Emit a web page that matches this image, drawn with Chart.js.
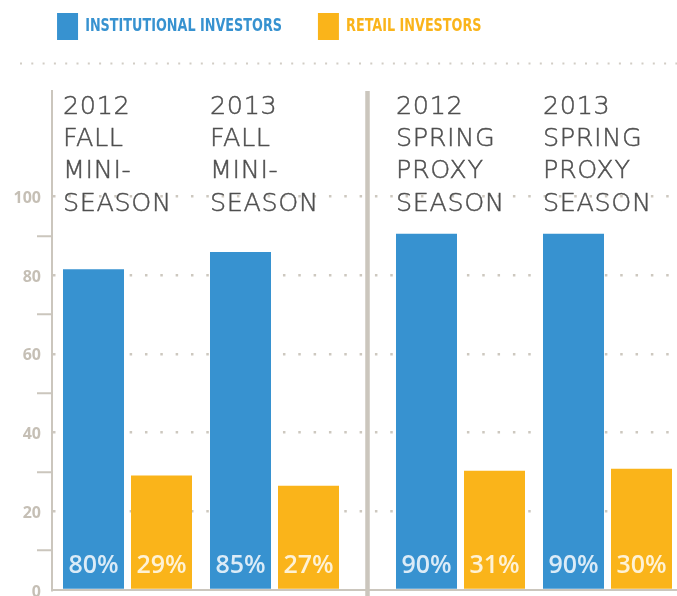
<!DOCTYPE html>
<html><head><meta charset="utf-8">
<script src="https://cdn.jsdelivr.net/npm/chart.js@4.4.1/dist/chart.umd.min.js"></script>
<style>html,body{margin:0;padding:0;background:#fff;}canvas{display:block}</style>
</head><body>
<canvas id="c" width="677" height="596"></canvas>
<script>
// ---- data ----
const seasons = [
  ['2012', 'FALL', 'MINI-', 'SEASON'],
  ['2013', 'FALL', 'MINI-', 'SEASON'],
  ['2012', 'SPRING', 'PROXY', 'SEASON'],
  ['2013', 'SPRING', 'PROXY', 'SEASON']
];
const seriesNames = ['INSTITUTIONAL INVESTORS', 'RETAIL INVESTORS'];
const institutional = [81.5, 85.9, 90.5, 90.5];
const retail = [29.1, 26.5, 30.3, 30.8];
const institutionalLabels = ['80%', '85%', '90%', '90%'];
const retailLabels = ['29%', '27%', '31%', '30%'];
const yTicks = [0, 10, 20, 30, 40, 50, 60, 70, 80, 90, 100];
const yLabelEvery = 20;

const BLUE = '#3792d0', ORANGE = '#fab41a', AXIS = '#cbc6bd';
const LEGEND_SX = 0.79;

class GapCategoryScale extends Chart.CategoryScale {
  getPixelForValue(value) {
    if (typeof value !== 'number') value = this.parse(value);
    const o = this.options;
    const n = this.getLabels().length;
    const w = (this.width + o.overhang - o.inset - o.gap) / n;
    return this.left + o.inset + w * (value + 0.5) + (value >= o.splitAt ? o.gap : 0);
  }
}
GapCategoryScale.id = 'gapCategory';
GapCategoryScale.defaults = Chart.CategoryScale.defaults;
Chart.register(GapCategoryScale);

const decor = {
  id: 'decor',
  afterInit(chart) {
    const lg = chart.legend;
    const fit = lg.fit.bind(lg);
    lg.fit = function () { fit(); this.height = 91; };
    const draw = lg.draw.bind(lg);
    lg.draw = function (a) {
      const c = chart.ctx; c.save();
      c.translate(21.1, -32.5); c.scale(LEGEND_SX, 1);
      draw(a); c.restore();
    };
  },
  beforeDatasetsDraw(chart) {
    const c = chart.ctx, x = chart.scales.x, area = chart.chartArea;
    c.save();
    // top dotted rule
    c.strokeStyle = '#d2cdc5'; c.lineWidth = 2; c.setLineDash([2, 9.3]);
    c.beginPath(); c.moveTo(20, 63.5); c.lineTo(chart.width, 63.5); c.stroke();
    c.setLineDash([]);
    // separator between seasons
    const sx = (x.getPixelForValue(1) + x.getPixelForValue(2)) / 2;
    c.strokeStyle = AXIS; c.lineWidth = 4.5;
    c.beginPath(); c.moveTo(sx, area.top); c.lineTo(sx, chart.height); c.stroke();
    c.restore();
  },
  afterDatasetsDraw(chart) {
    const c = chart.ctx;
    const m0 = chart.getDatasetMeta(0), m1 = chart.getDatasetMeta(1);
    c.save();
    // season titles
    c.fillStyle = '#4f4f4f';
    c.strokeStyle = '#4f4f4f';
    c.lineWidth = 0.45;
    c.font = '200 25.5px "DejaVu Sans"';
    c.letterSpacing = '0.6px';
    c.textAlign = 'left'; c.textBaseline = 'alphabetic';
    seasons.forEach((lines, i) => {
      const b = m0.data[i];
      const left = b.x - b.width / 2;
      lines.forEach((t, j) => { c.fillText(t, left, 113.5 + j * 32.4); c.strokeText(t, left, 113.5 + j * 32.4); });
    });
    c.letterSpacing = '0px';
    // value labels
    c.font = '600 25px "Open Sans"';
    c.fillStyle = 'rgba(255,255,255,0.82)';
    c.textAlign = 'center';
    const base = chart.chartArea.bottom - 17;
    m0.data.forEach((b, i) => c.fillText(institutionalLabels[i], b.x, base));
    m1.data.forEach((b, i) => c.fillText(retailLabels[i], b.x, base));
    c.restore();
  }
};

new Chart(document.getElementById('c'), {
  type: 'bar',
  data: {
    labels: seasons,
    datasets: [
      { label: seriesNames[0], data: institutional, backgroundColor: BLUE },
      { label: seriesNames[1], data: retail, backgroundColor: ORANGE }
    ]
  },
  options: {
    responsive: false,
    animation: false,
    events: [],
    categoryPercentage: 0.9252,
    barPercentage: 0.897,
    layout: { padding: 0 },
    plugins: {
      tooltip: { enabled: false },
      legend: {
        position: 'top',
        align: 'start',
        labels: {
          boxWidth: 21 / LEGEND_SX,
          boxHeight: 27,
          padding: 45.5,
          font: { family: '"Liberation Sans Narrow", "DejaVu Sans Condensed", sans-serif', weight: 'bold', size: 18 },
          generateLabels(chart) {
            return Chart.defaults.plugins.legend.labels.generateLabels(chart)
              .map(l => Object.assign(l, { fontColor: l.fillStyle, lineWidth: 0, strokeStyle: 'rgba(0,0,0,0)' }));
          }
        }
      }
    },
    scales: {
      x: {
        type: 'gapCategory',
        inset: 2, gap: 39, splitAt: 2, overhang: 4,
        grid: { display: false },
        ticks: { display: false },
        border: { display: true, color: AXIS, width: 2 },
        afterFit(s) { s.height = 6; }
      },
      y: {
        min: 0, max: 126.8,
        afterBuildTicks(s) { s.ticks = yTicks.map(v => ({ value: v })); },
        afterFit(s) { s.width = 52; },
        ticks: {
          autoSkip: false,
          padding: -4,
          labelOffset: 2,
          color: '#c5bfb5',
          font: { family: '"Open Sans"', weight: 'bold', size: 16 },
          callback: v => (v % yLabelEvery === 0 ? String(v) : '')
        },
        grid: {
          drawTicks: true,
          tickLength: 15,
          tickWidth: 2,
          lineWidth: 2.5,
          color: ctx => (ctx.tick && ctx.tick.value > 0 && ctx.tick.value % yLabelEvery === 0) ? '#cdc8bf' : 'rgba(0,0,0,0)',
          tickColor: ctx => (ctx.tick && ctx.tick.value % yLabelEvery !== 0) ? AXIS : 'rgba(0,0,0,0)'
        },
        border: { display: true, color: AXIS, width: 2, dash: [2.5, 12.83] }
      }
    }
  },
  plugins: [decor]
});
</script>
</body></html>
